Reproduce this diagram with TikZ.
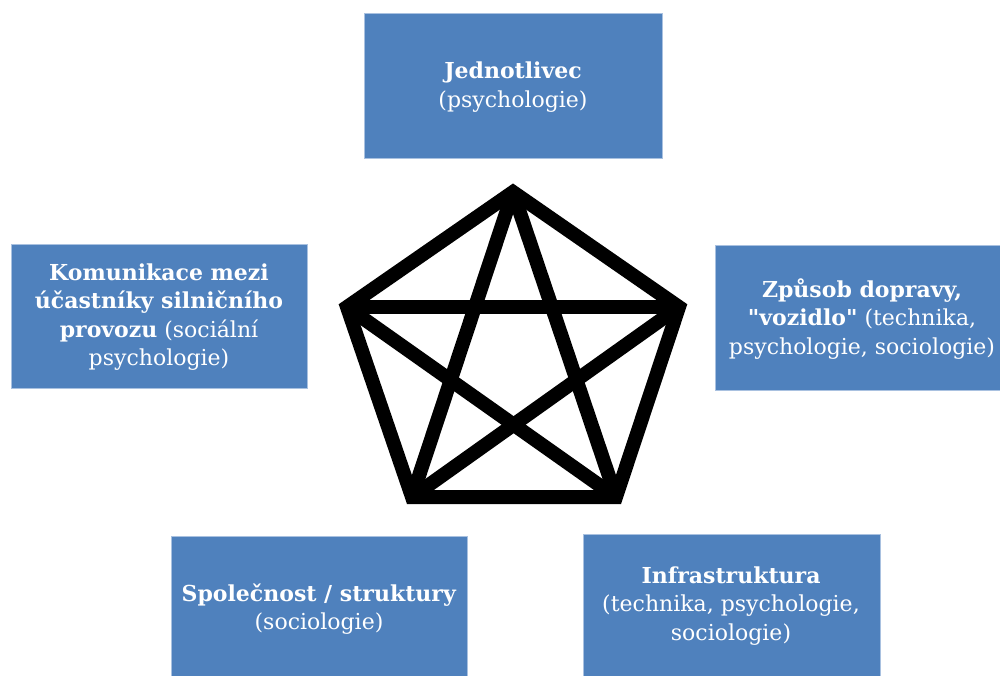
\documentclass[tikz,border=0pt]{standalone}
\usepackage{fontspec}
\setmainfont{DejaVu Serif}
\definecolor{boxblue}{HTML}{4F81BD}
\definecolor{boxedge}{HTML}{A9C1E0}
\begin{document}
\begin{tikzpicture}[x=1pt,y=-1pt,
  box/.style={draw=boxedge,line width=1pt,fill=boxblue,text=white,align=center,inner sep=0pt,
    font=\fontsize{22}{28.5}\selectfont},
  edge/.style={line width=14pt,line cap=butt}]
\useasboundingbox (0,0) rectangle (1000,675);
\fill[white] (0,0) rectangle (1000,675);
% boxes
\draw[box] (364,13) rectangle (662,158);
\node[box,draw=none] (jed) at (513,87) {\textbf{Jednotlivec}\\(psychologie)};
\draw[box] (11,244) rectangle (307,388);
\node[box,draw=none] (kom) at (159,317) {\textbf{Komunikace mezi}\\\textbf{účastníky silničního}\\\textbf{provozu} (sociální\\psychologie)};
\draw[box] (715,245) rectangle (1005,390);
\node[box,draw=none] (zpu) at (862,319) {\textbf{Způsob dopravy,}\\\textbf{\textquotedbl vozidlo\textquotedbl} (technika,\\psychologie, sociologie)};
\draw[box] (171,536) rectangle (467,680);
\node[box,draw=none] (spo) at (319,609) {\textbf{Společnost / struktury}\\(sociologie)};
\draw[box] (583,534) rectangle (880,680);
\node[box,draw=none] (inf) at (731,606) {\textbf{Infrastruktura}\\(technika, psychologie,\\sociologie)};
% pentagon
\coordinate (pt) at (513,192);
\coordinate (pl) at (347,307);
\coordinate (pr) at (679,307);
\coordinate (pbl) at (412,497);
\coordinate (pbr) at (616,497);
\draw[edge,line join=miter] (pt) -- (pr) -- (pbr) -- (pbl) -- (pl) -- cycle;
\draw[edge] (pt) -- (pbl);
\draw[edge] (pt) -- (pbr);
\draw[edge] (pl) -- (pr);
\draw[edge] (pl) -- (pbr);
\draw[edge] (pr) -- (pbl);
\end{tikzpicture}
\end{document}
